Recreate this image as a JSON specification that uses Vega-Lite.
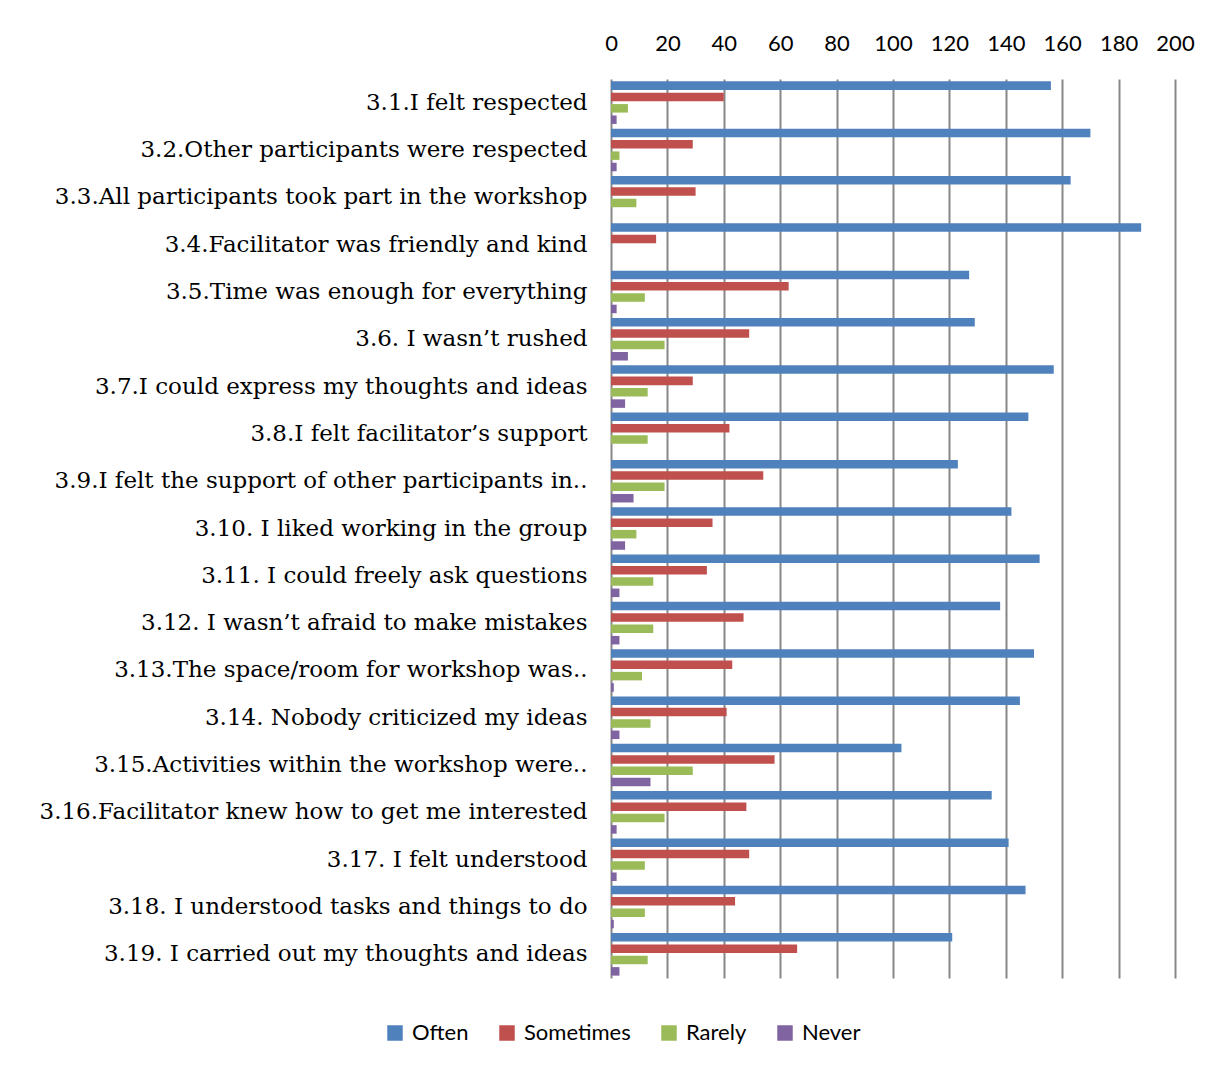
{
  "$schema": "https://vega.github.io/schema/vega-lite/v6.json",
  "width": 564,
  "height": 899,
  "autosize": {"type": "none"},
  "padding": {"left": 611, "top": 79, "right": 39, "bottom": 90},
  "background": "white",
  "data": {"values": [
    {"q": "3.1.I felt respected", "s": "Often", "v": 156},
    {"q": "3.1.I felt respected", "s": "Sometimes", "v": 40},
    {"q": "3.1.I felt respected", "s": "Rarely", "v": 6},
    {"q": "3.1.I felt respected", "s": "Never", "v": 2},
    {"q": "3.2.Other participants were respected", "s": "Often", "v": 170},
    {"q": "3.2.Other participants were respected", "s": "Sometimes", "v": 29},
    {"q": "3.2.Other participants were respected", "s": "Rarely", "v": 3},
    {"q": "3.2.Other participants were respected", "s": "Never", "v": 2},
    {"q": "3.3.All participants took part in the workshop", "s": "Often", "v": 163},
    {"q": "3.3.All participants took part in the workshop", "s": "Sometimes", "v": 30},
    {"q": "3.3.All participants took part in the workshop", "s": "Rarely", "v": 9},
    {"q": "3.3.All participants took part in the workshop", "s": "Never", "v": 0},
    {"q": "3.4.Facilitator was friendly and kind", "s": "Often", "v": 188},
    {"q": "3.4.Facilitator was friendly and kind", "s": "Sometimes", "v": 16},
    {"q": "3.4.Facilitator was friendly and kind", "s": "Rarely", "v": 0},
    {"q": "3.4.Facilitator was friendly and kind", "s": "Never", "v": 0},
    {"q": "3.5.Time was enough for everything", "s": "Often", "v": 127},
    {"q": "3.5.Time was enough for everything", "s": "Sometimes", "v": 63},
    {"q": "3.5.Time was enough for everything", "s": "Rarely", "v": 12},
    {"q": "3.5.Time was enough for everything", "s": "Never", "v": 2},
    {"q": "3.6. I wasn’t rushed", "s": "Often", "v": 129},
    {"q": "3.6. I wasn’t rushed", "s": "Sometimes", "v": 49},
    {"q": "3.6. I wasn’t rushed", "s": "Rarely", "v": 19},
    {"q": "3.6. I wasn’t rushed", "s": "Never", "v": 6},
    {"q": "3.7.I could express my thoughts and ideas", "s": "Often", "v": 157},
    {"q": "3.7.I could express my thoughts and ideas", "s": "Sometimes", "v": 29},
    {"q": "3.7.I could express my thoughts and ideas", "s": "Rarely", "v": 13},
    {"q": "3.7.I could express my thoughts and ideas", "s": "Never", "v": 5},
    {"q": "3.8.I felt facilitator’s support", "s": "Often", "v": 148},
    {"q": "3.8.I felt facilitator’s support", "s": "Sometimes", "v": 42},
    {"q": "3.8.I felt facilitator’s support", "s": "Rarely", "v": 13},
    {"q": "3.8.I felt facilitator’s support", "s": "Never", "v": 0},
    {"q": "3.9.I felt the support of other participants in..", "s": "Often", "v": 123},
    {"q": "3.9.I felt the support of other participants in..", "s": "Sometimes", "v": 54},
    {"q": "3.9.I felt the support of other participants in..", "s": "Rarely", "v": 19},
    {"q": "3.9.I felt the support of other participants in..", "s": "Never", "v": 8},
    {"q": "3.10.  I liked working in the group", "s": "Often", "v": 142},
    {"q": "3.10.  I liked working in the group", "s": "Sometimes", "v": 36},
    {"q": "3.10.  I liked working in the group", "s": "Rarely", "v": 9},
    {"q": "3.10.  I liked working in the group", "s": "Never", "v": 5},
    {"q": "3.11. I could freely ask questions", "s": "Often", "v": 152},
    {"q": "3.11. I could freely ask questions", "s": "Sometimes", "v": 34},
    {"q": "3.11. I could freely ask questions", "s": "Rarely", "v": 15},
    {"q": "3.11. I could freely ask questions", "s": "Never", "v": 3},
    {"q": "3.12. I wasn’t afraid to make mistakes", "s": "Often", "v": 138},
    {"q": "3.12. I wasn’t afraid to make mistakes", "s": "Sometimes", "v": 47},
    {"q": "3.12. I wasn’t afraid to make mistakes", "s": "Rarely", "v": 15},
    {"q": "3.12. I wasn’t afraid to make mistakes", "s": "Never", "v": 3},
    {"q": "3.13.The space/room for workshop was..", "s": "Often", "v": 150},
    {"q": "3.13.The space/room for workshop was..", "s": "Sometimes", "v": 43},
    {"q": "3.13.The space/room for workshop was..", "s": "Rarely", "v": 11},
    {"q": "3.13.The space/room for workshop was..", "s": "Never", "v": 1},
    {"q": "3.14. Nobody criticized my ideas", "s": "Often", "v": 145},
    {"q": "3.14. Nobody criticized my ideas", "s": "Sometimes", "v": 41},
    {"q": "3.14. Nobody criticized my ideas", "s": "Rarely", "v": 14},
    {"q": "3.14. Nobody criticized my ideas", "s": "Never", "v": 3},
    {"q": "3.15.Activities within the workshop were..", "s": "Often", "v": 103},
    {"q": "3.15.Activities within the workshop were..", "s": "Sometimes", "v": 58},
    {"q": "3.15.Activities within the workshop were..", "s": "Rarely", "v": 29},
    {"q": "3.15.Activities within the workshop were..", "s": "Never", "v": 14},
    {"q": "3.16.Facilitator knew how to get me interested", "s": "Often", "v": 135},
    {"q": "3.16.Facilitator knew how to get me interested", "s": "Sometimes", "v": 48},
    {"q": "3.16.Facilitator knew how to get me interested", "s": "Rarely", "v": 19},
    {"q": "3.16.Facilitator knew how to get me interested", "s": "Never", "v": 2},
    {"q": "3.17. I felt understood", "s": "Often", "v": 141},
    {"q": "3.17. I felt understood", "s": "Sometimes", "v": 49},
    {"q": "3.17. I felt understood", "s": "Rarely", "v": 12},
    {"q": "3.17. I felt understood", "s": "Never", "v": 2},
    {"q": "3.18. I understood tasks and things to do", "s": "Often", "v": 147},
    {"q": "3.18. I understood tasks and things to do", "s": "Sometimes", "v": 44},
    {"q": "3.18. I understood tasks and things to do", "s": "Rarely", "v": 12},
    {"q": "3.18. I understood tasks and things to do", "s": "Never", "v": 1},
    {"q": "3.19. I carried out my thoughts and ideas", "s": "Often", "v": 121},
    {"q": "3.19. I carried out my thoughts and ideas", "s": "Sometimes", "v": 66},
    {"q": "3.19. I carried out my thoughts and ideas", "s": "Rarely", "v": 13},
    {"q": "3.19. I carried out my thoughts and ideas", "s": "Never", "v": 3}
  ]},
  "mark": {"type": "bar"},
  "encoding": {
    "y": {
      "field": "q", "type": "nominal", "sort": null,
      "scale": {"paddingInner": 0.1, "paddingOuter": 0.05},
      "axis": {
        "title": null, "ticks": false, "domain": false, "grid": false,
        "labelFont": "DejaVu Serif", "labelFontSize": 23, "labelColor": "#000000",
        "labelPadding": 24, "labelLimit": 700
      }
    },
    "yOffset": {
      "field": "s", "type": "nominal",
      "sort": ["Often", "Sometimes", "Rarely", "Never"],
      "scale": {"paddingInner": 0.25, "paddingOuter": 0}
    },
    "x": {
      "field": "v", "type": "quantitative",
      "scale": {"domain": [0, 200], "nice": false},
      "axis": {
        "orient": "top", "title": null, "values": [0,20,40,60,80,100,120,140,160,180,200],
        "ticks": false, "domain": false, "grid": true, "gridColor": "#878787", "gridWidth": 2, "gridOpacity": 1,
        "labelFont": "Lato", "labelFontSize": 22, "labelColor": "#000000", "labelPadding": 24,
        "labelFlush": false
      }
    },
    "color": {
      "field": "s", "type": "nominal",
      "sort": ["Often", "Sometimes", "Rarely", "Never"],
      "scale": {"domain": ["Often", "Sometimes", "Rarely", "Never"], "range": ["#4F81BD", "#C0504D", "#9BBB59", "#8064A2"]},
      "legend": {
        "title": null, "orient": "none", "direction": "horizontal",
        "legendX": -227, "legendY": 943,
        "symbolType": "square", "symbolSize": 240, "symbolStrokeWidth": 0,
        "labelFont": "Lato", "labelFontSize": 22, "labelColor": "#000000",
        "columnPadding": 27, "labelOffset": 6
      }
    }
  },
  "config": {"view": {"stroke": null}}
}
